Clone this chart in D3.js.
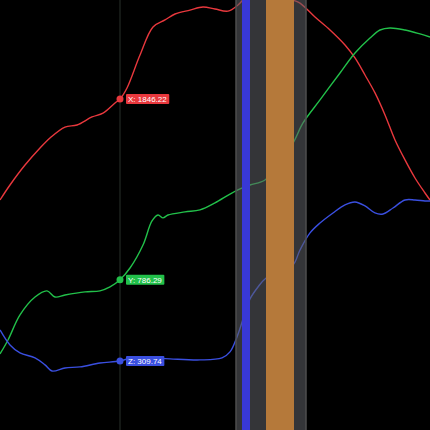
<!DOCTYPE html>
<html>
<head>
<meta charset="utf-8">
<script src="https://cdn.jsdelivr.net/npm/d3@7"></script>
<style>
  html, body { margin: 0; padding: 0; background: #000; }
  svg { display: block; }
</style>
</head>
<body>
<svg id="chart" width="430" height="430"></svg>
<script>
// time (s) and value samples
const redT = [0, 1, 2.5, 4, 5, 6.5, 7.7, 9.2, 10.3, 11.5, 12, 12.7, 14, 15.3, 16.5, 17.5, 19, 20.3, 21.5, 22.8, 23.8, 24.5, 25.5, 26.8, 28.2, 29.3, 30, 31.5, 33, 34.5, 35.5, 36.5, 37.5, 38.5, 39.5, 40.5, 41.5, 42.5, 43];
const redV = [1254, 1342, 1459, 1559, 1618, 1682, 1694, 1741, 1764, 1823, 1846.22, 1911, 2104, 2269, 2310, 2345, 2368, 2386, 2374, 2362, 2398, 2439, 2474, 2486, 2462, 2427, 2409, 2327, 2251, 2163, 2087, 1987, 1882, 1753, 1606, 1489, 1383, 1295, 1254];

const greenT = [0, 0.8, 2, 3.5, 4.7, 5.5, 6.5, 8.5, 10, 11, 12, 13, 14.3, 15.2, 15.8, 16.3, 16.8, 18.5, 20, 21.5, 23, 24, 25, 26.5, 27.9, 29.3, 30.3, 32, 34, 35.5, 37, 38, 39, 40.5, 42, 43];
const greenV = [351, 433, 580, 685, 721, 685, 697, 715, 721, 744, 786.29, 855, 990, 1131, 1166, 1149, 1166, 1184, 1196, 1237, 1289, 1319, 1342, 1371, 1477, 1588, 1706, 1841, 1999, 2116, 2204, 2251, 2263, 2251, 2228, 2210];

const blueT = [0, 1, 2, 3.5, 4.5, 5.2, 6.5, 8, 10, 12, 13.5, 15, 17, 20, 22.2, 23, 23.7, 24.5, 25, 25.8, 26.5, 27.9, 29.3, 30, 31, 32, 33.3, 34.5, 35.5, 36.5, 37.5, 38.3, 39.3, 40.5, 41.5, 42.5, 43];
const blueV = [492, 404, 357, 328, 287, 251, 269, 275, 298, 309.74, 334, 328, 322, 316, 328, 363, 451, 592, 674, 744, 791, 832, 873, 961, 1061, 1119, 1178, 1225, 1242, 1219, 1178, 1172, 1207, 1254, 1254, 1248, 1248];

const seriesNames = ["X", "Y", "Z"];
const seriesColors = ["#e8383d", "#22c04a", "#3a4fe0"];
const cursorT = 12;
const cursorValues = [1846.22, 786.29, 309.74];

// shaded span and markers inside it
const spanRange = [23.6, 30.6];
const blueMark = [24.2, 25.0];
const orangeMark = [26.6, 29.4];

const width = 430, height = 430;
const svg = d3.select("#chart");

const x = d3.scaleLinear().domain([0, 43]).range([0, width]);
const y = d3.scaleLinear().domain([-95, 2427]).range([height, 0]);

svg.append("rect").attr("width", width).attr("height", height).attr("fill", "#000");

const series = [
  redT.map((t, i) => [t, redV[i]]),
  greenT.map((t, i) => [t, greenV[i]]),
  blueT.map((t, i) => [t, blueV[i]])
];

// cursor line
svg.append("line")
  .attr("x1", x(cursorT)).attr("x2", x(cursorT))
  .attr("y1", 0).attr("y2", height)
  .attr("stroke", "#28312a").attr("stroke-width", 1);

const line = d3.line()
  .x(d => x(d[0]))
  .y(d => y(d[1]))
  .curve(d3.curveCatmullRom.alpha(0.5));

svg.selectAll(".series")
  .data(series)
  .enter()
  .append("path")
  .attr("class", "series")
  .attr("d", line)
  .attr("fill", "none")
  .attr("stroke", (d, i) => seriesColors[i])
  .attr("stroke-width", 1.4);

// gray span, dims the lines below it
svg.append("rect")
  .attr("x", x(spanRange[0]))
  .attr("y", 0)
  .attr("width", x(spanRange[1]) - x(spanRange[0]))
  .attr("height", height)
  .attr("fill", "rgb(92,95,100)")
  .attr("fill-opacity", 0.56);

spanRange.forEach(t => {
  svg.append("line")
    .attr("x1", x(t)).attr("x2", x(t))
    .attr("y1", 0).attr("y2", height)
    .attr("stroke", "#4e4e4e").attr("stroke-width", 1.5);
});

svg.append("rect")
  .attr("x", x(blueMark[0])).attr("y", 0)
  .attr("width", x(blueMark[1]) - x(blueMark[0]))
  .attr("height", height)
  .attr("fill", "#3838d6");

svg.append("rect")
  .attr("x", x(orangeMark[0])).attr("y", 0)
  .attr("width", x(orangeMark[1]) - x(orangeMark[0]))
  .attr("height", height)
  .attr("fill", "#b5793a");

// cursor dots and value labels
cursorValues.forEach((v, i) => {
  const cx = x(cursorT), cy = y(v);
  svg.append("circle")
    .attr("cx", cx).attr("cy", cy).attr("r", 3.5)
    .attr("fill", seriesColors[i]);

  const g = svg.append("g");
  const rect = g.append("rect")
    .attr("fill", seriesColors[i])
    .attr("rx", 1);
  const txt = g.append("text")
    .attr("x", cx + 8)
    .attr("y", cy + 3)
    .attr("fill", "#fff")
    .attr("font-family", "Liberation Sans, Arial, sans-serif")
    .attr("font-size", 8)
    .text(`${seriesNames[i]}: ${v.toFixed(2)}`);
  const bb = txt.node().getBBox();
  rect.attr("x", cx + 6)
    .attr("y", cy - 5)
    .attr("width", bb.width + 4)
    .attr("height", 10);
});
</script>
</body>
</html>
